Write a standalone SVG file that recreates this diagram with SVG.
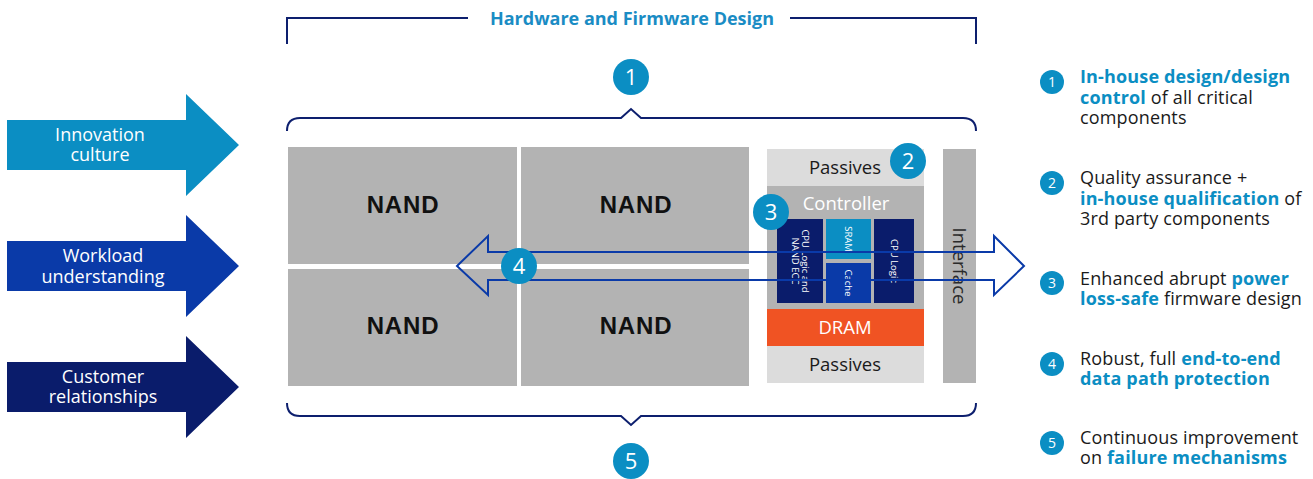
<svg xmlns="http://www.w3.org/2000/svg" width="1313" height="479" viewBox="0 0 1313 479">
  <style>
    .nand { fill: #b3b3b3; }
    .nand-label { font-family: "Liberation Sans", Arial, sans-serif; font-weight: bold; font-size: 24px; letter-spacing: 0.8px; fill: #111; text-anchor: middle; }
    .lbl { font-family: "Open Sans", "Liberation Sans", sans-serif; font-size: 18.5px; text-anchor: middle; }
    .tiny { font-family: "Open Sans", "Liberation Sans", sans-serif; font-size: 9.5px; fill: #fff; text-anchor: middle; }
    .badge { fill: #0b8ec3; }
    .badge-num { font-family: "Open Sans", "Liberation Sans", sans-serif; font-size: 22px; fill: #fff; text-anchor: middle; }
    .badge-sm { font-family: "Open Sans", "Liberation Sans", sans-serif; font-size: 14px; fill: #fff; text-anchor: middle; }
    .bracket { fill: none; stroke: #0d1f6e; stroke-width: 2; }
    .arrow-text { font-family: "Open Sans", "Liberation Sans", sans-serif; font-size: 18px; fill: #fff; text-anchor: middle; }
    .item { font-family: "Open Sans", "Liberation Sans", sans-serif; font-size: 18px; letter-spacing: 0.15px; fill: #1a1a1a; }
    .hl { fill: #0b8ec3; font-weight: bold; }
  </style>

  <!-- Driver arrows on the left -->
  <g id="arrow-innovation">
    <polygon points="7,120 186,120 186,94 239,145 186,196 186,170 7,170" fill="#0b8ec3"/>
    <text class="arrow-text" x="100" y="141">Innovation</text>
    <text class="arrow-text" x="100" y="161">culture</text>
  </g>
  <g id="arrow-workload">
    <polygon points="7,241 186,241 186,215 239,266 186,317 186,291 7,291" fill="#0a3aa8"/>
    <text class="arrow-text" x="103" y="262">Workload</text>
    <text class="arrow-text" x="103" y="283">understanding</text>
  </g>
  <g id="arrow-customer">
    <polygon points="7,362 186,362 186,336 239,387 186,438 186,412 7,412" fill="#0a1c6b"/>
    <text class="arrow-text" x="103" y="383">Customer</text>
    <text class="arrow-text" x="103" y="403">relationships</text>
  </g>

  <!-- Title bracket -->
  <g id="title">
    <path class="bracket" d="M287,44 V18 H468 M790,18 H976 V44"/>
    <text x="632" y="25" font-family="'Open Sans', 'Liberation Sans', sans-serif" font-size="18" font-weight="bold" fill="#1a8cc4" text-anchor="middle">Hardware and Firmware Design</text>
  </g>

  <!-- Curly braces -->
  <g id="braces">
    <path class="bracket" d="M287,131 Q287,118 300,118 H621 L631,109 L641,118 H963 Q976,118 976,131"/>
    <path class="bracket" d="M287,403 Q287,416 300,416 H621 L631,425 L641,416 H963 Q976,416 976,403"/>
  </g>

  <!-- NAND packages -->
  <g id="nand-1">
    <rect class="nand" x="288" y="147" width="229" height="117"/>
    <text class="nand-label" x="403" y="213">NAND</text>
  </g>
  <g id="nand-2">
    <rect class="nand" x="521" y="147" width="228" height="117"/>
    <text class="nand-label" x="636" y="213">NAND</text>
  </g>
  <g id="nand-3">
    <rect class="nand" x="288" y="269" width="229" height="117"/>
    <text class="nand-label" x="403" y="334">NAND</text>
  </g>
  <g id="nand-4">
    <rect class="nand" x="521" y="269" width="228" height="117"/>
    <text class="nand-label" x="636" y="334">NAND</text>
  </g>

  <!-- Controller stack -->
  <g id="passives-top">
    <rect x="767" y="149" width="157" height="37" fill="#dcdcdc"/>
    <text class="lbl" x="845" y="174" fill="#1a1a1a">Passives</text>
  </g>
  <g id="controller">
    <rect x="767" y="186" width="157" height="123" fill="#b3b3b3"/>
    <text class="lbl" x="846" y="210" fill="#fff">Controller</text>
    <rect x="777" y="219" width="46" height="84" fill="#0a1c6b"/>
    <text class="tiny" transform="translate(800,261) rotate(90)"><tspan x="0" y="-2">CPU Logic and</tspan><tspan x="0" y="8">NAND ECC</tspan></text>
    <rect x="826" y="219" width="45" height="40" fill="#0b8ec3"/>
    <text class="tiny" transform="translate(848.5,239) rotate(90)" y="3.5">SRAM</text>
    <rect x="826" y="263" width="45" height="40" fill="#0a3aa8"/>
    <text class="tiny" transform="translate(848.5,283) rotate(90)" y="3.5">Cache</text>
    <rect x="874" y="219" width="40" height="84" fill="#0a1c6b"/>
    <text class="tiny" transform="translate(894,261) rotate(90)" y="3.5">CPU Logic</text>
  </g>
  <g id="dram">
    <rect x="767" y="309" width="157" height="37" fill="#f05323"/>
    <text class="lbl" x="845" y="334" fill="#fff" font-size="19.5">DRAM</text>
  </g>
  <g id="passives-bottom">
    <rect x="767" y="346" width="157" height="37" fill="#dcdcdc"/>
    <text class="lbl" x="845" y="371" fill="#1a1a1a">Passives</text>
  </g>
  <g id="interface">
    <rect x="943" y="149" width="33" height="234" fill="#b3b3b3"/>
    <text class="lbl" transform="translate(959.5,266) rotate(90)" y="7" fill="#2a2a2a" font-size="20.5">Interface</text>
  </g>

  <!-- Data path connector -->
  <g id="connectors">
    <polygon points="457,266 488,236 488,252 994,252 994,236 1024,266 994,295 994,280 488,280 488,295" fill="none" stroke="#0a3aa8" stroke-width="2" stroke-linejoin="miter"/>
  </g>

  <!-- Numbered badges on the diagram -->
  <g id="badge-1"><circle class="badge" cx="631" cy="77" r="18"/><text class="badge-num" x="631" y="85">1</text></g>
  <g id="badge-2"><circle class="badge" cx="908" cy="161" r="18"/><text class="badge-num" x="908" y="169">2</text></g>
  <g id="badge-3"><circle class="badge" cx="771" cy="212" r="18"/><text class="badge-num" x="771" y="220">3</text></g>
  <g id="badge-4"><circle class="badge" cx="519" cy="266" r="18"/><text class="badge-num" x="519" y="274">4</text></g>
  <g id="badge-5"><circle class="badge" cx="631" cy="461" r="18"/><text class="badge-num" x="631" y="469">5</text></g>

  <!-- Legend -->
  <g id="legend-1">
    <circle class="badge" cx="1052" cy="82" r="12"/><text class="badge-sm" x="1052" y="87">1</text>
    <text class="item" x="1080" y="83"><tspan class="hl">In-house design/design</tspan></text>
    <text class="item" x="1080" y="104"><tspan class="hl">control</tspan> of all critical</text>
    <text class="item" x="1080" y="124">components</text>
  </g>
  <g id="legend-2">
    <circle class="badge" cx="1052" cy="183" r="12"/><text class="badge-sm" x="1052" y="188">2</text>
    <text class="item" x="1080" y="184">Quality assurance +</text>
    <text class="item" x="1080" y="205"><tspan class="hl">in-house qualification</tspan> of</text>
    <text class="item" x="1080" y="225">3rd party components</text>
  </g>
  <g id="legend-3">
    <circle class="badge" cx="1052" cy="283" r="12"/><text class="badge-sm" x="1052" y="288">3</text>
    <text class="item" x="1080" y="285">Enhanced abrupt <tspan class="hl">power</tspan></text>
    <text class="item" x="1080" y="305"><tspan class="hl">loss-safe</tspan> firmware design</text>
  </g>
  <g id="legend-4">
    <circle class="badge" cx="1052" cy="364" r="12"/><text class="badge-sm" x="1052" y="369">4</text>
    <text class="item" x="1080" y="365">Robust, full <tspan class="hl">end-to-end</tspan></text>
    <text class="item" x="1080" y="385"><tspan class="hl">data path protection</tspan></text>
  </g>
  <g id="legend-5">
    <circle class="badge" cx="1052" cy="443" r="12"/><text class="badge-sm" x="1052" y="448">5</text>
    <text class="item" x="1080" y="444">Continuous improvement</text>
    <text class="item" x="1080" y="464">on <tspan class="hl">failure mechanisms</tspan></text>
  </g>
</svg>
